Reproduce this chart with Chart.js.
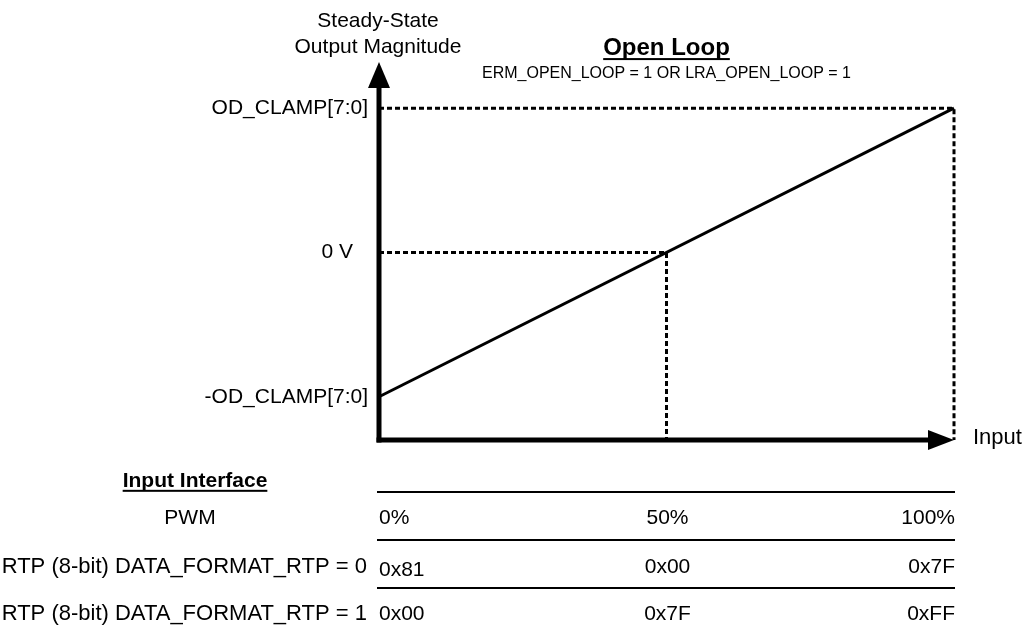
<!DOCTYPE html>
<html>
<head>
<meta charset="utf-8">
<script src="https://cdn.jsdelivr.net/npm/chart.js@4.4.0/dist/chart.umd.min.js"></script>
<style>
  html, body { margin: 0; padding: 0; background: #fff; }
  #wrap { width: 1028px; height: 631px; }
</style>
</head>
<body>
<div id="wrap"><canvas id="openLoopChart"></canvas></div>
<script>
// values (output in units of OD_CLAMP)
const inputPct = [0, 100];
const outputLevel = [-1, 1];
const yTickValues = [1, 0, -1];
const yTickLabels = ['OD_CLAMP[7:0]', '0 V', '-OD_CLAMP[7:0]'];
const clampGuideX = [0, 100, 100];
const clampGuideY = [1, 1, -1.3];
const zeroGuideX = [0, 50, 50];
const zeroGuideY = [0, 0, -1.3];

// input interface table
const tableCols = [0, 50, 100];
const rowNames = ['PWM', 'RTP (8-bit) DATA_FORMAT_RTP = 0', 'RTP (8-bit) DATA_FORMAT_RTP = 1'];
const pwmRow = ['0%', '50%', '100%'];
const rtpSignedRow = ['0x81', '0x00', '0x7F'];
const rtpUnsignedRow = ['0x00', '0x7F', '0xFF'];

const FONT = '"Liberation Sans", Arial, sans-serif';

function toPoints(xs, ys) {
    return xs.map((x, i) => ({ x: x, y: ys[i] }));
}

function drawText(ctx, s, x, y, size, align, bold, underline) {
    ctx.font = (bold ? 'bold ' : '') + size + 'px ' + FONT;
    ctx.textAlign = align;
    ctx.textBaseline = 'middle';
    ctx.fillStyle = '#000';
    ctx.fillText(s, x, y);
    if (underline) {
        const w = ctx.measureText(s).width;
        let x0 = x;
        if (align === 'center') x0 = x - w / 2;
        if (align === 'right') x0 = x - w;
        ctx.fillRect(x0, y + size * 0.42, w, 2);
    }
}

// axes with arrows, labels and the table underneath
const diagramPlugin = {
    id: 'diagram',
    afterDatasetsDraw(chart) {
        const ctx = chart.ctx;
        const area = chart.chartArea;
        const xs = chart.scales.x;
        const ys = chart.scales.y;
        const left = area.left, bottom = area.bottom;

        ctx.save();
        ctx.fillStyle = '#000';
        ctx.strokeStyle = '#000';

        // y axis
        ctx.lineWidth = 5;
        ctx.beginPath();
        ctx.moveTo(left, bottom + 2.5);
        ctx.lineTo(left, area.top + 20);
        ctx.stroke();
        ctx.beginPath();
        ctx.moveTo(left, area.top);
        ctx.lineTo(left - 11, area.top + 26);
        ctx.lineTo(left + 11, area.top + 26);
        ctx.closePath();
        ctx.fill();

        // x axis
        ctx.beginPath();
        ctx.moveTo(left - 2.5, bottom);
        ctx.lineTo(area.right - 20, bottom);
        ctx.stroke();
        ctx.beginPath();
        ctx.moveTo(area.right, bottom);
        ctx.lineTo(area.right - 26, bottom - 10);
        ctx.lineTo(area.right - 26, bottom + 10);
        ctx.closePath();
        ctx.fill();

        // y tick labels
        yTickValues.forEach((v, i) => {
            const lx = v === 0 ? left - 26 : left - 11;
            drawText(ctx, yTickLabels[i], lx, ys.getPixelForValue(v), 21, 'right');
        });

        // axis titles
        drawText(ctx, 'Steady-State', left - 1, 21, 21, 'center');
        drawText(ctx, 'Output Magnitude', left - 1, 47, 21, 'center');
        drawText(ctx, 'Input', area.right + 19, bottom - 2, 22, 'left');

        // title
        const cx = xs.getPixelForValue(50);
        drawText(ctx, 'Open Loop', cx, 48, 24, 'center', true, true);
        drawText(ctx, 'ERM_OPEN_LOOP = 1 OR LRA_OPEN_LOOP = 1', cx, 74, 16, 'center');

        // input interface table
        drawText(ctx, 'Input Interface', 195, 481, 21, 'center', true, true);
        const x0 = xs.getPixelForValue(0), x1 = xs.getPixelForValue(100);
        ctx.lineWidth = 2;
        [492, 540, 588].forEach(y => {
            ctx.beginPath();
            ctx.moveTo(x0 - 2, y);
            ctx.lineTo(x1 + 1, y);
            ctx.stroke();
        });
        const rows = [pwmRow, rtpSignedRow, rtpUnsignedRow];
        const rowY = [518, 567, 614];
        rows.forEach((row, r) => {
            if (r === 0) drawText(ctx, rowNames[r], 190, rowY[r], 21, 'center');
            else drawText(ctx, rowNames[r], 367, rowY[r], 22, 'right');
            row.forEach((s, c) => {
                const px = xs.getPixelForValue(tableCols[c]);
                const align = c === 0 ? 'left' : (c === row.length - 1 ? 'right' : 'center');
                const dy = (r === 1 && c === 0) ? 3 : 0;
                drawText(ctx, s, c === 0 ? px : px + 1, rowY[r] + dy, 21, align);
            });
        });
        ctx.restore();
    }
};

new Chart(document.getElementById('openLoopChart'), {
    type: 'line',
    data: {
        datasets: [
            {
                label: 'Output',
                data: toPoints(inputPct, outputLevel),
                borderColor: '#000',
                borderWidth: 3,
                pointRadius: 0,
                clip: false,
                order: 0
            },
            {
                label: 'OD_CLAMP guide',
                data: toPoints(clampGuideX, clampGuideY),
                borderColor: '#000',
                borderWidth: 3,
                borderDash: [5, 3],
                pointRadius: 0,
                clip: false,
                order: 1
            },
            {
                label: '0 V guide',
                data: toPoints(zeroGuideX, zeroGuideY),
                borderColor: '#000',
                borderWidth: 3,
                borderDash: [5, 3],
                pointRadius: 0,
                clip: false,
                order: 2
            }
        ]
    },
    options: {
        responsive: true,
        maintainAspectRatio: false,
        animation: false,
        layout: { padding: { left: 379, right: 74, top: 62, bottom: 191 } },
        scales: {
            x: { type: 'linear', min: 0, max: 100, display: false },
            y: { type: 'linear', min: -1.3, max: 1.32, display: false }
        },
        plugins: {
            legend: { display: false },
            tooltip: { enabled: false }
        }
    },
    plugins: [diagramPlugin]
});
</script>
</body>
</html>
